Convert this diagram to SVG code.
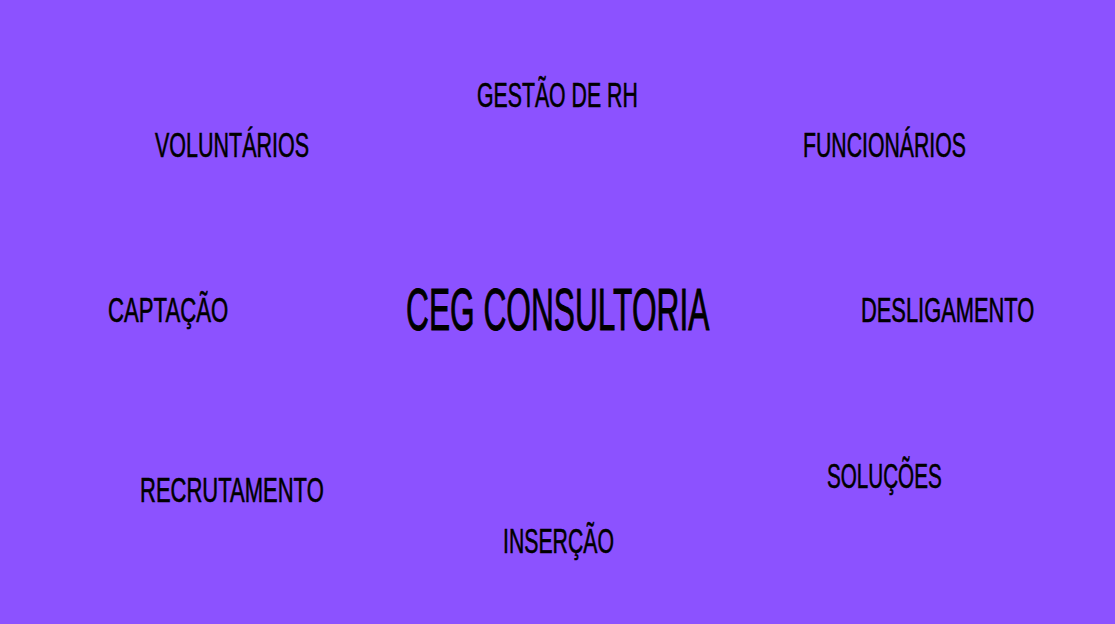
<svg xmlns="http://www.w3.org/2000/svg" width="1115" height="624" viewBox="0 0 1115 624">
<style>
.lbl{font-family:"Liberation Sans","DejaVu Sans",sans-serif;font-size:35px;fill:#000;stroke:#000;stroke-width:0.6px;}
.title{font-family:"Liberation Sans","DejaVu Sans",sans-serif;font-size:59px;fill:#000;stroke:#000;stroke-width:1px;}
</style>
<rect x="0" y="0" width="1115" height="624" fill="#8C52FF"/>
<g id="center" transform="translate(406,330) scale(0.537,1)"><text class="title" x="0" y="0">CEG CONSULTORIA</text></g>
<g id="gestao" transform="translate(477,107) scale(0.608,1)"><text class="lbl" x="0" y="0">GESTÃO DE RH</text></g>
<g id="voluntarios" transform="translate(155,157) scale(0.614,1)"><text class="lbl" x="0" y="0">VOLUNTÁRIOS</text></g>
<g id="funcionarios" transform="translate(803,157) scale(0.607,1)"><text class="lbl" x="0" y="0">FUNCIONÁRIOS</text></g>
<g id="captacao" transform="translate(108,322) scale(0.633,1)"><text class="lbl" x="0" y="0">CAPTAÇÃO</text></g>
<g id="desligamento" transform="translate(861,322) scale(0.625,1)"><text class="lbl" x="0" y="0">DESLIGAMENTO</text></g>
<g id="recrutamento" transform="translate(140,502) scale(0.629,1)"><text class="lbl" x="0" y="0">RECRUTAMENTO</text></g>
<g id="solucoes" transform="translate(827,488) scale(0.59,1)"><text class="lbl" x="0" y="0">SOLUÇÕES</text></g>
<g id="insercao" transform="translate(503,553) scale(0.607,1)"><text class="lbl" x="0" y="0">INSERÇÃO</text></g>
<g id="connectors"></g>
</svg>
